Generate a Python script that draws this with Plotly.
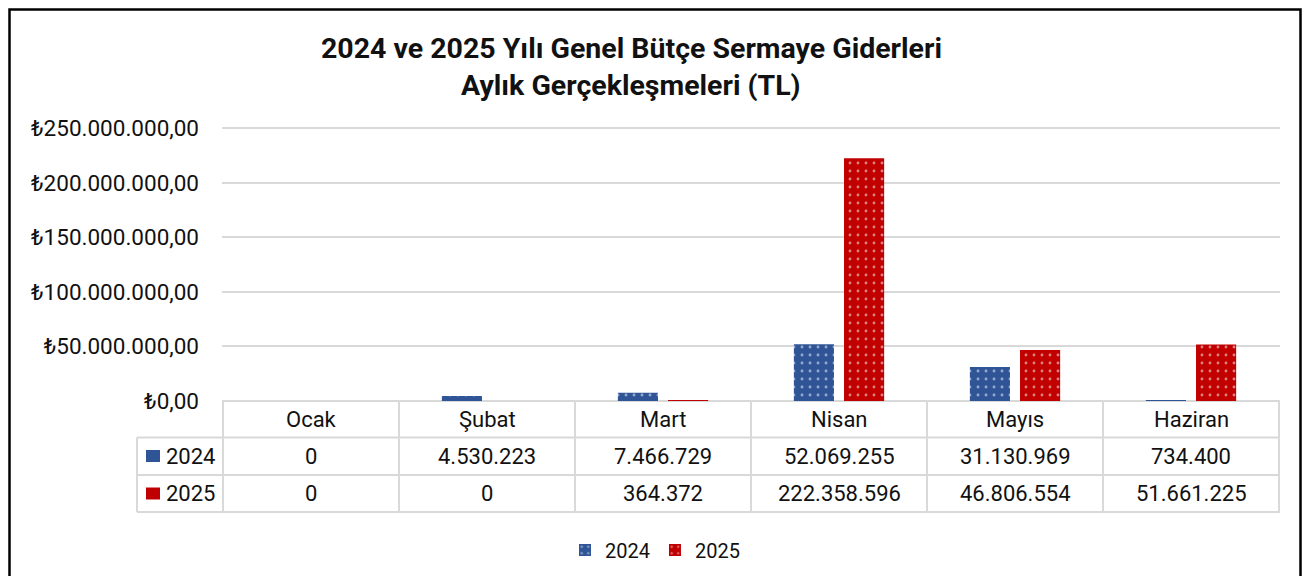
import plotly.graph_objects as go

months = ["Ocak", "Şubat", "Mart", "Nisan", "Mayıs", "Haziran"]
years = ["2024", "2025"]
v2024 = [0, 4530223, 7466729, 52069255, 31130969, 734400]
v2025 = [0, 0, 364372, 222358596, 46806554, 51661225]
colors = ["#2F5597", "#C00000"]
title_lines = ["2024 ve 2025 Yılı Genel Bütçe Sermaye Giderleri", "Aylık Gerçekleşmeleri (TL)"]

FONT = "Roboto"
OFF = 8  # default page body margin
W, H = 1310 - 2 * OFF, 584 - 2 * OFF
# plot area in reference pixels: x 222..1280, y 128..401
L = 222 - OFF
T = 127 - OFF
R = W - (1280 - OFF)
B = H - (401 - OFF)
PH = H - T - B
PW = W - L - R

def py(pix):  # reference pixel y -> paper y
    return (401 - pix) / PH

def px(pix):  # reference pixel x -> paper x
    return (pix - 222) / PW

def fmt(v):
    return f"{v:,}".replace(",", ".")

fig = go.Figure()
for name, vals, col in zip(years, [v2024, v2025], colors):
    fig.add_trace(go.Bar(
        x=months, y=vals, name=name,
        marker=dict(color=col, line=dict(width=0),
                    pattern=dict(shape=".", fgcolor="white", bgcolor=col,
                                 size=8, solidity=0.1, fillmode="overlay")),
    ))

shapes = []
gc = "#D9D9D9"
row_lines = [py(437.5), py(475), py(512)]
for i in range(len(months) + 1):
    shapes.append(dict(type="line", xref="x", yref="paper", x0=i - 0.5, x1=i - 0.5,
                       y0=0, y1=row_lines[-1], line=dict(color=gc, width=2)))
for yv in row_lines:
    shapes.append(dict(type="line", xref="paper", yref="paper", x0=px(137), x1=1,
                       y0=yv, y1=yv, line=dict(color=gc, width=2)))
shapes.append(dict(type="line", xref="paper", yref="paper", x0=px(137), x1=px(137),
                   y0=row_lines[0], y1=row_lines[-1], line=dict(color=gc, width=2)))
shapes.append(dict(type="rect", xref="paper", yref="paper", x0=px(9.5), x1=px(1300.5),
                   y0=py(640), y1=py(9.5), line=dict(color="black", width=2.5)))

ann = []
row_y = [419, 456, 493.5]
for m in months:
    ann.append(dict(x=m, y=py(row_y[0]), xref="x", yref="paper", text=m, showarrow=False,
                    xanchor="center", yanchor="middle",
                    font=dict(size=22, color="#111", family=FONT)))
for r, (name, vals, col) in enumerate(zip(years, [v2024, v2025], colors)):
    yc = row_y[r + 1]
    for m, v in zip(months, vals):
        ann.append(dict(x=m, y=py(yc), xref="x", yref="paper", text=fmt(v),
                        showarrow=False, xanchor="center", yanchor="middle",
                        font=dict(size=22, color="#111", family=FONT)))
    shapes.append(dict(type="rect", xref="paper", yref="paper", x0=px(146), x1=px(160),
                       y0=py(yc + 6), y1=py(yc - 6), fillcolor=col, line=dict(width=0)))
    ann.append(dict(x=px(164), y=py(yc), xref="paper", yref="paper", xanchor="left",
                    yanchor="middle", text=name, showarrow=False,
                    font=dict(size=22, color="#111", family=FONT)))
for t, yp in zip(title_lines, [48, 85]):
    ann.append(dict(x=px(631), y=py(yp), xref="paper", yref="paper", text=f"<b>{t}</b>",
                    showarrow=False, xanchor="center", yanchor="middle",
                    font=dict(size=28.5, color="#111", family=FONT)))

fig.update_layout(
    width=W, height=H,
    margin=dict(l=L, r=R, t=T, b=B, pad=0, autoexpand=False),
    paper_bgcolor="white", plot_bgcolor="white",
    separators=",.",
    barmode="group", bargap=0.43, bargroupgap=0.2,
    font=dict(family=FONT, size=20, color="#111"),
    xaxis=dict(showticklabels=False, showgrid=False, zeroline=False, showline=False,
               ticks="", automargin=False),
    yaxis=dict(range=[0, 251000000], tick0=0, dtick=50000000, automargin=False,
               tickprefix="₺", showtickprefix="all", tickformat=",.2f",
               showgrid=True, gridcolor=gc, gridwidth=2, zeroline=True, zerolinecolor=gc,
               zerolinewidth=2, ticks="", ticklabelstandoff=22,
               tickfont=dict(size=22.5, color="#111", family=FONT)),
    legend=dict(orientation="h", xref="container", yref="container",
                x=(655 - OFF) / W, xanchor="center",
                y=1 - (550 - OFF) / H, yanchor="middle",
                font=dict(size=20, color="#111", family=FONT), itemwidth=30,
                tracegroupgap=0),
    shapes=shapes, annotations=ann,
)
fig.write_html("out.html")
